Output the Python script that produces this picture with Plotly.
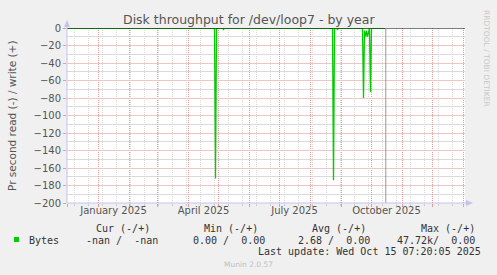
import plotly.graph_objects as go

# ---------------- data ----------------
read_dates = ["2024-12-01", "2025-04-27", "2025-04-28", "2025-04-29",
              "2025-05-05", "2025-05-06", "2025-05-07",
              "2025-08-23", "2025-08-24", "2025-08-25",
              "2025-08-27", "2025-08-28", "2025-08-29",
              "2025-09-22", "2025-09-23", "2025-09-24", "2025-09-25",
              "2025-09-26", "2025-09-27", "2025-09-28", "2025-09-29",
              "2025-09-30", "2025-10-01", "2025-10-15"]
read_values = [0, 0, -172, 0,
               0, -1.5, 0,
               0, -174, 0,
               0, -1.5, 0,
               0, -80, -3, -10, -3, -10, -2, 0,
               -73, 0, 0]
write_dates = ["2024-12-01", "2025-10-15"]
write_values = [0, 0]

month_starts = ["2024-12-01", "2025-01-01", "2025-02-01", "2025-03-01", "2025-04-01",
                "2025-05-01", "2025-06-01", "2025-07-01", "2025-08-01", "2025-09-01",
                "2025-10-01", "2025-11-01", "2025-12-01", "2026-01-01"]
label_dates = ["2025-01-16", "2025-04-16", "2025-07-16", "2025-10-16"]
label_texts = ["January 2025", "April 2025", "July 2025", "October 2025"]
y_ticks = [0, -20, -40, -60, -80, -100, -120, -140, -160, -180, -200]
now_time = "2025-10-15 07:20:05"

title = "Disk throughput for /dev/loop7 - by year"
ytitle = "Pr second read (-) / write (+)"
legend_headers = ["Cur (-/+)", "Min (-/+)", "Avg (-/+)", "Max (-/+)"]
legend_name = "Bytes"
legend_values = ["-nan /  -nan", "0.00 /  0.00", "2.68 /  0.00", "47.72k/  0.00"]
last_update = "Last update: Wed Oct 15 07:20:05 2025"
footer = "Munin 2.0.57"
side_text = "RRDTOOL / TOBI OETIKER"

# ---------------- layout geometry ----------------
FW, FH = 497, 275
L, T, W, H = 67, 28, 398, 175
R = FW - L - W
B = FH - T - H

def px(x):
    return (x - L) / W

def py(y):
    return (T + H - y) / H

GREEN = "#00cc00"
MAJOR = "#eb9a9a"
MAJOR_H = "#f3c4c4"
MINOR = "#dadada"
AXIS = "#c4c4ec"
TXT = "#555555"
SANS = "DejaVu Sans"
MONO = "DejaVu Sans Mono"
DASH = "1px,1px"

fig = go.Figure()
fig.add_trace(go.Scatter(x=write_dates, y=write_values, mode="lines",
                         line=dict(color=GREEN, width=1), hoverinfo="skip",
                         showlegend=False))
fig.add_trace(go.Scatter(x=read_dates, y=read_values, mode="lines",
                         line=dict(color=GREEN, width=1.3), hoverinfo="skip",
                         showlegend=False))
fig.add_trace(go.Scatter(x=label_dates, y=[None] * len(label_dates), xaxis="x2",
                         mode="lines", hoverinfo="skip", showlegend=False))

xrange = ["2024-11-30 12:00", "2026-01-02 12:00"]

fig.update_layout(
    width=FW, height=FH,
    margin=dict(l=L, r=R, t=T, b=B, pad=0),
    paper_bgcolor="#f0f0f0", plot_bgcolor="#ffffff",
    showlegend=False,
    xaxis=dict(type="date", range=xrange, tickmode="array", tickvals=month_starts,
               showticklabels=False, ticks="outside", ticklen=3,
               tickcolor=MAJOR, showgrid=True, gridcolor=MAJOR, gridwidth=1,
               griddash=DASH, zeroline=False, showline=False,
               minor=dict(tick0="2024-12-08", dtick=14 * 86400000, showgrid=True,
                          gridcolor=MINOR, ticks="outside", ticklen=2,
                          tickcolor="#cccccc")),
    xaxis2=dict(type="date", range=xrange, overlaying="x", anchor="y", side="bottom",
                tickmode="array", tickvals=label_dates, ticktext=label_texts,
                showgrid=False, zeroline=False, ticks="", showline=False,
                tickfont=dict(family=SANS, size=10, color=TXT)),
    yaxis=dict(range=[-200, 0], tickmode="array", tickvals=y_ticks,
               ticks="outside", ticklen=3, tickcolor=MAJOR,
               tickfont=dict(family=SANS, size=10, color=TXT),
               showgrid=True, gridcolor=MAJOR_H, gridwidth=1,
               zeroline=False, showline=False,
               minor=dict(dtick=10, showgrid=True, gridcolor=MINOR)),
)

shapes = []
# zero rule
shapes.append(dict(type="line", xref="paper", yref="y", x0=0, x1=1, y0=0, y1=0,
                   line=dict(color="#000000", width=1), layer="above"))
# now line
shapes.append(dict(type="line", xref="x", yref="paper", x0=now_time, x1=now_time,
                   y0=0, y1=1, line=dict(color="#999999", width=1), layer="above"))
# axis lines with arrows
shapes.append(dict(type="line", xref="paper", yref="paper", x0=0, x1=0, y0=0,
                   y1=py(24), line=dict(color=AXIS, width=1), layer="above"))
shapes.append(dict(type="line", xref="paper", yref="paper", x0=0, x1=px(468),
                   y0=0, y1=0, line=dict(color=AXIS, width=1), layer="above"))
shapes.append(dict(type="path", xref="paper", yref="paper",
                   path=f"M {px(64)},{py(27)} L {px(70)},{py(27)} L {px(67)},{py(20)} Z",
                   fillcolor=AXIS, line=dict(width=0), layer="above"))
shapes.append(dict(type="path", xref="paper", yref="paper",
                   path=f"M {px(466)},{py(200)} L {px(466)},{py(206)} L {px(473)},{py(203)} Z",
                   fillcolor=AXIS, line=dict(width=0), layer="above"))
# legend swatch
shapes.append(dict(type="rect", xref="paper", yref="paper", x0=px(14), x1=px(19),
                   y0=py(242), y1=py(237), fillcolor=GREEN, line=dict(width=0),
                   layer="above"))
fig.update_layout(shapes=shapes)

ann = []
ann.append(dict(text=title, xref="paper", yref="paper", x=px(249), y=py(19),
                xanchor="center", yanchor="middle", showarrow=False,
                font=dict(family=SANS, size=12.5, color=TXT)))
ann.append(dict(text=ytitle, xref="paper", yref="paper", x=px(12), y=py(116),
                xanchor="center", yanchor="middle", textangle=-90, showarrow=False,
                font=dict(family=SANS, size=10.5, color=TXT)))
ann.append(dict(text=side_text, xref="paper", yref="paper", x=px(487), y=py(59),
                xanchor="center", yanchor="middle", textangle=90, showarrow=False,
                font=dict(family=SANS, size=7.5, color="#c8c8c8")))

def nb(s):
    return s.replace(" ", "\u00a0")

hdr_right = [152, 260, 368, 477]
val_right = [160, 267, 372, 477]
for t, xr in zip(legend_headers, hdr_right):
    ann.append(dict(text=nb(t), xref="paper", yref="paper", x=px(xr), y=py(228),
                    xanchor="right", yanchor="middle", showarrow=False,
                    font=dict(family=MONO, size=10, color="#333333")))
for t, xr in zip(legend_values, val_right):
    ann.append(dict(text=nb(t), xref="paper", yref="paper", x=px(xr), y=py(240),
                    xanchor="right", yanchor="middle", showarrow=False,
                    font=dict(family=MONO, size=10, color="#333333")))
ann.append(dict(text=legend_name, xref="paper", yref="paper", x=px(27), y=py(240),
                xanchor="left", yanchor="middle", showarrow=False,
                font=dict(family=MONO, size=10, color="#333333")))
ann.append(dict(text=nb(last_update), xref="paper", yref="paper", x=px(483), y=py(251.5),
                xanchor="right", yanchor="middle", showarrow=False,
                font=dict(family=MONO, size=10, color="#333333")))
ann.append(dict(text=footer, xref="paper", yref="paper", x=px(248), y=py(264.5),
                xanchor="center", yanchor="middle", showarrow=False,
                font=dict(family=SANS, size=7.5, color="#c0c0c0")))
fig.update_layout(annotations=ann)

fig.write_html("out.html")
